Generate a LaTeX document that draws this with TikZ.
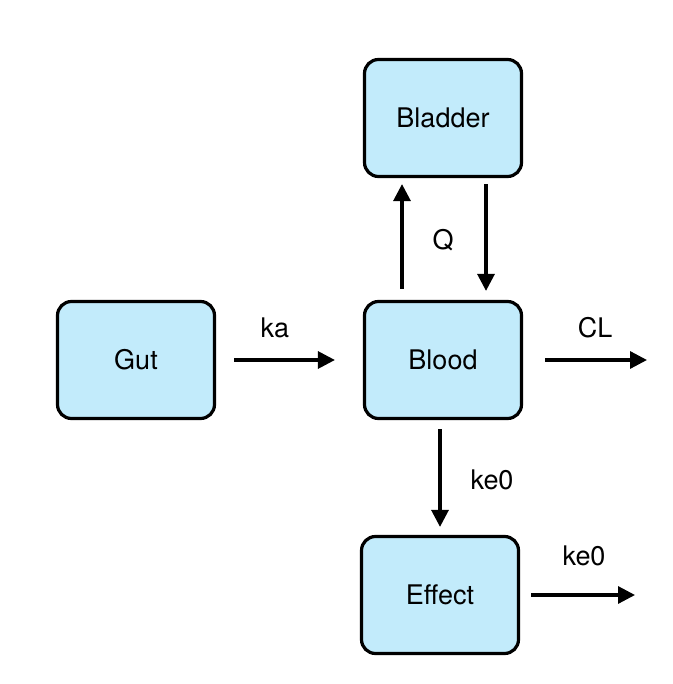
\documentclass[tikz,border=0pt]{standalone}
\usepackage{fontspec}
\setmainfont{TeX Gyre Heros}
\usetikzlibrary{arrows.meta}
\definecolor{boxfill}{HTML}{C2EBFB}
\begin{document}
\begin{tikzpicture}[x=1pt,y=-1pt,
  comp/.style={draw=black,line width=3.2pt,fill=boxfill,rounded corners=14pt,
    minimum width=157pt,minimum height=117pt,inner sep=0pt,font=\fontsize{27}{30}\selectfont},
  flow/.style={line width=3.2pt,-{Triangle[length=17pt,width=17pt]}},
  lbl/.style={font=\fontsize{27}{30}\selectfont}]
\useasboundingbox (0,0) rectangle (672,684);
\node[comp] (bladder) at (443,118) {Bladder};
\node[comp] (gut) at (136,360) {Gut};
\node[comp] (blood) at (443,360) {Blood};
\node[comp] (effect) at (440,595) {Effect};
\coordinate (clout) at (647,360);
\coordinate (keout) at (635,595);
\draw[flow,shorten <=18pt,shorten >=28pt] (gut.east) -- (blood.west);
\draw[flow,shorten <=22pt] (blood.east) -- (clout);
\draw[flow,shorten <=11pt,shorten >=6pt] ([xshift=-41pt]blood.north) -- ([xshift=-41pt]blood.north |- bladder.south);
\draw[flow,shorten <=6pt,shorten >=9pt] ([xshift=43pt]bladder.south) -- ([xshift=43pt]bladder.south |- blood.north);
\draw[flow,shorten <=9pt,shorten >=8pt] (blood.south -| effect.north) -- (effect.north);
\draw[flow,shorten <=11pt] (effect.east) -- (keout);
\node[lbl] (ka) at (275,328) {ka};
\node[lbl] (cl) at (595,328) {CL};
\node[lbl] (q) at (443,240) {Q};
\node[lbl] (ke1) at (492,480) {ke0};
\node[lbl] (ke2) at (584,556) {ke0};
\end{tikzpicture}
\end{document}
